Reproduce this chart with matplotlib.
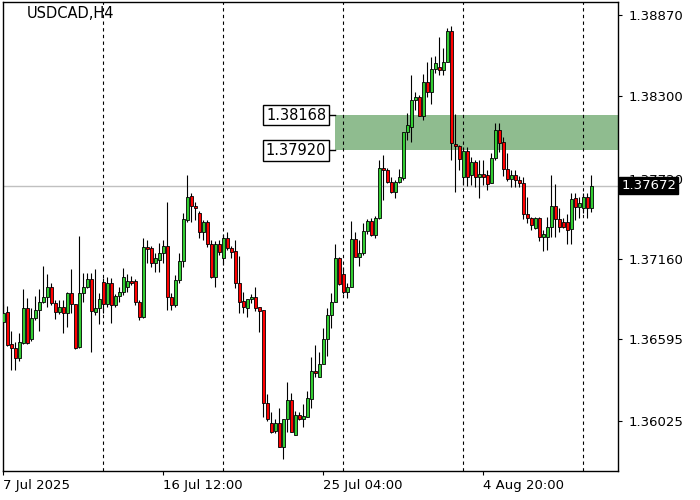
import numpy as np
import matplotlib
matplotlib.use('Agg')
import matplotlib.pyplot as plt
from matplotlib.patches import Rectangle

plt.rcParams['font.family'] = ['DejaVu Sans']

symbol = 'USDCAD,H4'

# H4 candles, oldest first
opens = [
    1.36718, 1.36789, 1.36565, 1.36537, 1.36467, 1.36572, 1.36817, 1.36600, 1.36747, 1.36803,
    1.36859, 1.36894, 1.36964, 1.36852, 1.36789, 1.36824, 1.36782, 1.36922, 1.36845, 1.36544,
    1.36922, 1.36964, 1.37020, 1.36789, 1.36817, 1.36999, 1.36845, 1.36992, 1.36838, 1.36901,
    1.36929, 1.36964, 1.37006, 1.37006, 1.36859, 1.36754, 1.37244, 1.37237, 1.37132, 1.37153,
    1.37202, 1.37251, 1.36894, 1.36838, 1.37013, 1.37146, 1.37433, 1.37601, 1.37531, 1.37482,
    1.37349, 1.37419, 1.37265, 1.37034, 1.37265, 1.37167, 1.37307, 1.37237, 1.37216, 1.36992,
    1.36866, 1.36817, 1.36880, 1.36894, 1.36824, 1.36803, 1.36152, 1.36012, 1.35956, 1.36012,
    1.35844, 1.36040, 1.36173, 1.35928, 1.36068, 1.36040, 1.36054, 1.36180, 1.36376, 1.36334,
    1.36425, 1.36600, 1.36768, 1.36859, 1.37167, 1.37055, 1.36929, 1.36964, 1.37300, 1.37174,
    1.37202, 1.37356, 1.37426, 1.37328, 1.37447, 1.37797, 1.37783, 1.37699, 1.37629, 1.37699,
    1.37727, 1.38050, 1.38085, 1.38274, 1.38295, 1.38162, 1.38400, 1.38330, 1.38491, 1.38505,
    1.38484, 1.38540, 1.38758, 1.37966, 1.37952, 1.37734, 1.37916, 1.37748, 1.37839, 1.37734,
    1.37755, 1.37748, 1.37692, 1.37867, 1.38064, 1.37980, 1.37790, 1.37720, 1.37748, 1.37713,
    1.37692, 1.37475, 1.37447, 1.37377, 1.37447, 1.37314, 1.37314, 1.37384, 1.37531, 1.37440,
    1.37419, 1.37419, 1.37370, 1.37587, 1.37524, 1.37517, 1.37594, 1.37517,
]
highs = [
    1.36845, 1.36831, 1.36656, 1.36579, 1.36642, 1.36950, 1.36887, 1.36817, 1.36901, 1.36950,
    1.37111, 1.37055, 1.36992, 1.36873, 1.36873, 1.36873, 1.36929, 1.37090, 1.36845, 1.37321,
    1.37062, 1.37062, 1.37062, 1.37090, 1.36922, 1.37027, 1.37034, 1.37027, 1.36915, 1.36964,
    1.37097, 1.37055, 1.37041, 1.37020, 1.36873, 1.37307, 1.37293, 1.37251, 1.37202, 1.37272,
    1.37293, 1.37559, 1.36922, 1.37048, 1.37202, 1.37482, 1.37748, 1.37622, 1.37559, 1.37496,
    1.37433, 1.37433, 1.37293, 1.37286, 1.37293, 1.37335, 1.37349, 1.37251, 1.37293, 1.37180,
    1.36929, 1.36880, 1.36915, 1.36964, 1.36824, 1.36803, 1.36215, 1.36089, 1.36040, 1.36117,
    1.36040, 1.36299, 1.36222, 1.36096, 1.36089, 1.36145, 1.36236, 1.36474, 1.36558, 1.36509,
    1.36677, 1.36817, 1.36922, 1.37265, 1.37174, 1.37104, 1.36992, 1.37426, 1.37349, 1.37293,
    1.37412, 1.37440, 1.37447, 1.37461, 1.37853, 1.37888, 1.37797, 1.37734, 1.37713, 1.37790,
    1.38050, 1.38183, 1.38449, 1.38330, 1.38309, 1.38456, 1.38540, 1.38575, 1.38582, 1.38716,
    1.38639, 1.38779, 1.38793, 1.38176, 1.37959, 1.37945, 1.37945, 1.37874, 1.37853, 1.37853,
    1.37853, 1.37783, 1.37902, 1.38113, 1.38113, 1.38015, 1.37902, 1.37783, 1.37783, 1.37741,
    1.37734, 1.37594, 1.37454, 1.37454, 1.37454, 1.37363, 1.37454, 1.37748, 1.37685, 1.37517,
    1.37447, 1.37475, 1.37622, 1.37622, 1.37594, 1.37622, 1.37622, 1.37748,
]
lows = [
    1.36593, 1.36551, 1.36383, 1.36383, 1.36446, 1.36565, 1.36565, 1.36586, 1.36733, 1.36656,
    1.36852, 1.36824, 1.36838, 1.36740, 1.36775, 1.36642, 1.36684, 1.36782, 1.36530, 1.36537,
    1.36859, 1.36957, 1.36509, 1.36768, 1.36705, 1.36782, 1.36824, 1.36712, 1.36824, 1.36859,
    1.36907, 1.36929, 1.36978, 1.36838, 1.36733, 1.36747, 1.37132, 1.37104, 1.37068, 1.37068,
    1.37132, 1.36803, 1.36803, 1.36824, 1.36992, 1.37104, 1.37419, 1.37419, 1.37433, 1.37307,
    1.37293, 1.37244, 1.37027, 1.36964, 1.37188, 1.37118, 1.37223, 1.37167, 1.36957, 1.36782,
    1.36782, 1.36754, 1.36852, 1.36796, 1.36649, 1.36054, 1.36026, 1.35942, 1.35942, 1.35844,
    1.35760, 1.35949, 1.35949, 1.35928, 1.36033, 1.35984, 1.36054, 1.36117, 1.36334, 1.36334,
    1.36425, 1.36481, 1.36677, 1.36859, 1.36978, 1.36915, 1.36887, 1.36964, 1.37174, 1.37111,
    1.37188, 1.37335, 1.37321, 1.37307, 1.37440, 1.37573, 1.37692, 1.37622, 1.37587, 1.37692,
    1.37713, 1.37994, 1.37980, 1.38204, 1.38162, 1.38134, 1.38295, 1.38246, 1.38463, 1.38449,
    1.38449, 1.38540, 1.37853, 1.37629, 1.37783, 1.37678, 1.37671, 1.37678, 1.37664, 1.37587,
    1.37678, 1.37643, 1.37692, 1.37853, 1.37909, 1.37741, 1.37706, 1.37664, 1.37664, 1.37664,
    1.37440, 1.37412, 1.37363, 1.37370, 1.37286, 1.37216, 1.37223, 1.37314, 1.37314, 1.37349,
    1.37377, 1.37265, 1.37265, 1.37433, 1.37447, 1.37482, 1.37447, 1.37489,
]
closes = [
    1.36782, 1.36558, 1.36537, 1.36467, 1.36579, 1.36817, 1.36572, 1.36747, 1.36803, 1.36859,
    1.36894, 1.36964, 1.36852, 1.36789, 1.36824, 1.36782, 1.36922, 1.36845, 1.36537, 1.36922,
    1.36964, 1.37020, 1.36796, 1.36817, 1.36880, 1.36845, 1.36992, 1.36838, 1.36901, 1.36929,
    1.37034, 1.37006, 1.36992, 1.36859, 1.36754, 1.37244, 1.37230, 1.37132, 1.37167, 1.37202,
    1.37251, 1.36894, 1.36838, 1.37013, 1.37146, 1.37440, 1.37594, 1.37531, 1.37517, 1.37349,
    1.37419, 1.37265, 1.37034, 1.37265, 1.37209, 1.37307, 1.37237, 1.37209, 1.36992, 1.36859,
    1.36824, 1.36880, 1.36894, 1.36817, 1.36796, 1.36152, 1.36040, 1.35949, 1.36012, 1.35844,
    1.36040, 1.36173, 1.35949, 1.36068, 1.36040, 1.36061, 1.36187, 1.36376, 1.36362, 1.36425,
    1.36600, 1.36768, 1.36859, 1.37167, 1.36985, 1.36929, 1.36964, 1.37300, 1.37174, 1.37202,
    1.37356, 1.37426, 1.37328, 1.37447, 1.37797, 1.37783, 1.37699, 1.37629, 1.37699, 1.37734,
    1.38050, 1.38099, 1.38274, 1.38295, 1.38162, 1.38400, 1.38330, 1.38491, 1.38533, 1.38484,
    1.38540, 1.38758, 1.37973, 1.37952, 1.37860, 1.37916, 1.37734, 1.37839, 1.37734, 1.37755,
    1.37734, 1.37685, 1.37867, 1.38064, 1.37973, 1.37790, 1.37720, 1.37748, 1.37713, 1.37692,
    1.37475, 1.37447, 1.37398, 1.37447, 1.37314, 1.37335, 1.37384, 1.37531, 1.37440, 1.37384,
    1.37384, 1.37363, 1.37580, 1.37524, 1.37552, 1.37594, 1.37517, 1.37672,
]

last_price = 1.37672
zone_top = 1.38168
zone_bottom = 1.37920

price_ticks = [1.38870, 1.38300, 1.37720, 1.37160, 1.36595, 1.36025]
time_tick_bars = [0, 40, 80, 120]
time_tick_labels = ['7 Jul 2025', '16 Jul 12:00', '25 Jul 04:00', '4 Aug 20:00']
day_separator_bars = [25, 55, 85, 115, 145]
zone_start_bar = 82.9

fig = plt.figure(figsize=(7, 5), dpi=100)
ax = fig.add_axes([0.0036, 0.058, 0.8793, 0.937])
ax.set_xlim(-0.2, 153.7)
ax.set_ylim(1.35673, 1.38957)

# support / resistance zone
ax.add_patch(Rectangle((zone_start_bar, zone_bottom), 200, zone_top - zone_bottom,
                       facecolor='#8fbc8f', edgecolor='none', zorder=1))

# period separators
for b in day_separator_bars:
    ax.axvline(b, color='black', lw=0.8, linestyle=(0, (3, 3)), zorder=2)

# bid line
ax.axhline(last_price, color='#c0c0c0', lw=1, zorder=2)

# candles
x = np.arange(len(opens))
o = np.array(opens)
c = np.array(closes)
colors = np.where(c >= o, '#32cd32', '#ff0000')
ax.vlines(x, lows, highs, color='black', lw=0.8, zorder=3)
ax.bar(x, c - o, bottom=o, width=0.78, facecolor=colors, edgecolor='black',
       linewidth=0.6, zorder=4)

# zone price labels
for level in (zone_top, zone_bottom):
    ax.plot([80.9, zone_start_bar], [level, level], color='black', lw=1, zorder=5)
    ax.text(80.7, level, f'{level:.5f}', ha='right', va='center', fontsize=10.5,
            bbox=dict(boxstyle='square,pad=0.18', fc='white', ec='black', lw=1),
            zorder=6)

ax.text(0.04, 0.993, symbol, transform=ax.transAxes, ha='left', va='top',
        fontsize=10.5, color='black')

# axes
for s in ax.spines.values():
    s.set_color('black')
    s.set_linewidth(1)

ax.yaxis.tick_right()
ax.set_yticks(price_ticks)
ax.set_yticklabels([f'{p:.5f}' for p in price_ticks])
ax.tick_params(axis='y', direction='out', length=3, pad=4.5, labelsize=9.5)

ax.set_xticks(time_tick_bars)
ax.set_xticklabels(time_tick_labels, ha='left')
ax.tick_params(axis='x', direction='out', length=3, pad=3, labelsize=9.5)

ax.text(1.005, last_price, f'{last_price:.5f}', transform=ax.get_yaxis_transform(),
        ha='left', va='center', color='white', fontsize=9.5, zorder=10,
        bbox=dict(boxstyle='square,pad=0.15', fc='black', ec='black'))

fig.savefig('out.png', dpi=100)
